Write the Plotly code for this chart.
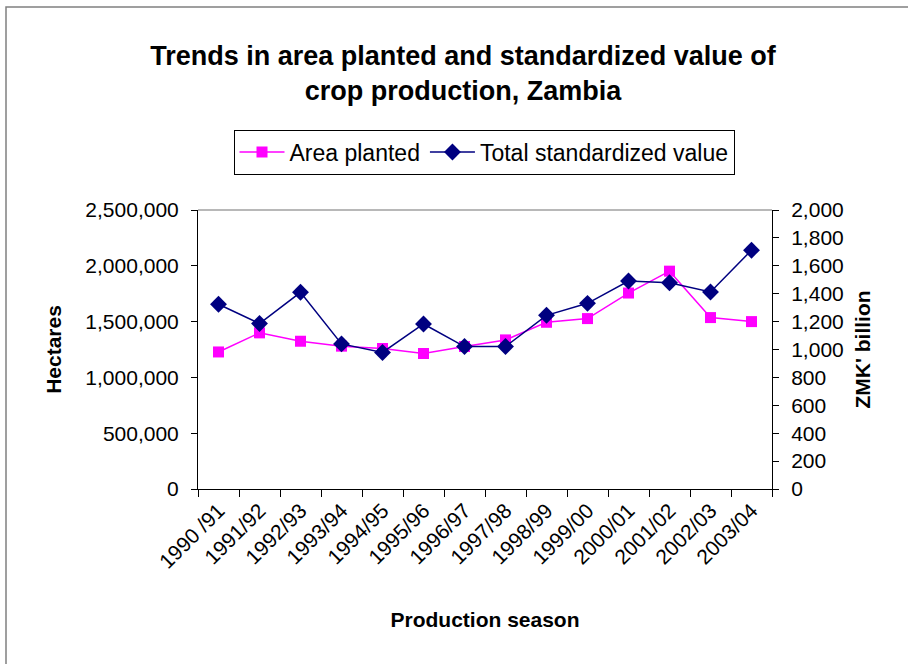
import plotly.graph_objects as go

seasons = ["1990 /91", "1991/92", "1992/93", "1993/94", "1994/95", "1995/96", "1996/97",
           "1997/98", "1998/99", "1999/00", "2000/01", "2001/02", "2002/03", "2003/04"]
area_planted = [1228000, 1399000, 1324000, 1280000, 1259000, 1214000, 1277000,
                1336000, 1494000, 1527000, 1756000, 1952000, 1536000, 1500000]
total_value = [1324, 1186, 1410, 1040, 979, 1183, 1021,
               1021, 1245, 1331, 1491, 1479, 1412, 1712]

FONT = "Liberation Sans, Arial, sans-serif"

fig = go.Figure()
fig.add_trace(go.Scatter(
    x=seasons, y=area_planted, name="Area planted", mode="lines+markers",
    line=dict(color="#FF00FF", width=1.5),
    marker=dict(symbol="square", size=11, color="#FF00FF"),
    yaxis="y"))
fig.add_trace(go.Scatter(
    x=seasons, y=total_value, name="Total standardized value", mode="lines+markers",
    line=dict(color="#000080", width=1.5),
    marker=dict(symbol="diamond", size=13, color="#000080"),
    yaxis="y2"))

# plot area: x 198..772, y 210..489
L, R, T, B = 198, 772, 210, 489
W, H = R - L, B - T
def px(x):
    return (x - L) / W
def py(y):
    return (B - y) / H

fig.update_layout(
    width=908, height=664,
    margin=dict(l=L, r=908 - R, t=T, b=664 - B),
    paper_bgcolor="white", plot_bgcolor="white",
    font=dict(family=FONT, size=22, color="black"),
    title=dict(text="<b>Trends in area planted and standardized value of<br>crop production, Zambia</b>",
               x=px(463), xref="paper", xanchor="center",
               y=1 - 65 / 664, yanchor="middle",
               font=dict(family=FONT, size=27, color="black")),
    showlegend=True,
    legend=dict(orientation="h", x=px(484), xanchor="center", y=py(152), yanchor="middle",
                bordercolor="black", borderwidth=1, bgcolor="white",
                font=dict(family=FONT, size=23), itemwidth=45,
                traceorder="normal"),
    xaxis=dict(type="category", range=[-0.5, 13.5], showgrid=False, zeroline=False,
               showline=True, linecolor="black", linewidth=1,
               ticks="outside", tickson="boundaries", ticklen=7, tickcolor="black",
               tickangle=-45, tickfont=dict(size=21),
               title=dict(text="<b>Production season</b>", font=dict(size=21), standoff=40)),
    yaxis=dict(range=[0, 2500000], dtick=500000, tickformat=",", showgrid=False,
               zeroline=False, showline=True, linecolor="black", linewidth=1,
               ticks="outside", ticklen=6, tickcolor="black", tickfont=dict(size=21),
               ticklabelstandoff=8,
               title=dict(text="<b>Hectares</b>", font=dict(size=21), standoff=18)),
    yaxis2=dict(range=[0, 2000], dtick=200, tickformat=",", overlaying="y", side="right",
                showgrid=False, zeroline=False, showline=True, linecolor="black", linewidth=1,
                ticks="outside", ticklen=6, tickcolor="black", tickfont=dict(size=21),
                ticklabelstandoff=8,
                title=dict(text="<b>ZMK' billion</b>", font=dict(size=21), standoff=12)),
    shapes=[
        dict(type="line", xref="paper", yref="paper", x0=0, x1=1, y0=1, y1=1,
             line=dict(color="#A0A0A0", width=1.5), layer="below"),
        dict(type="rect", xref="paper", yref="paper",
             x0=px(6), x1=px(940), y0=py(700), y1=py(7),
             line=dict(color="#808080", width=1.5), fillcolor="rgba(0,0,0,0)"),
    ],
)

fig.write_html("out.html", config={"displayModeBar": False},
               post_script="document.body.style.margin='0';document.body.style.overflow='hidden';")
